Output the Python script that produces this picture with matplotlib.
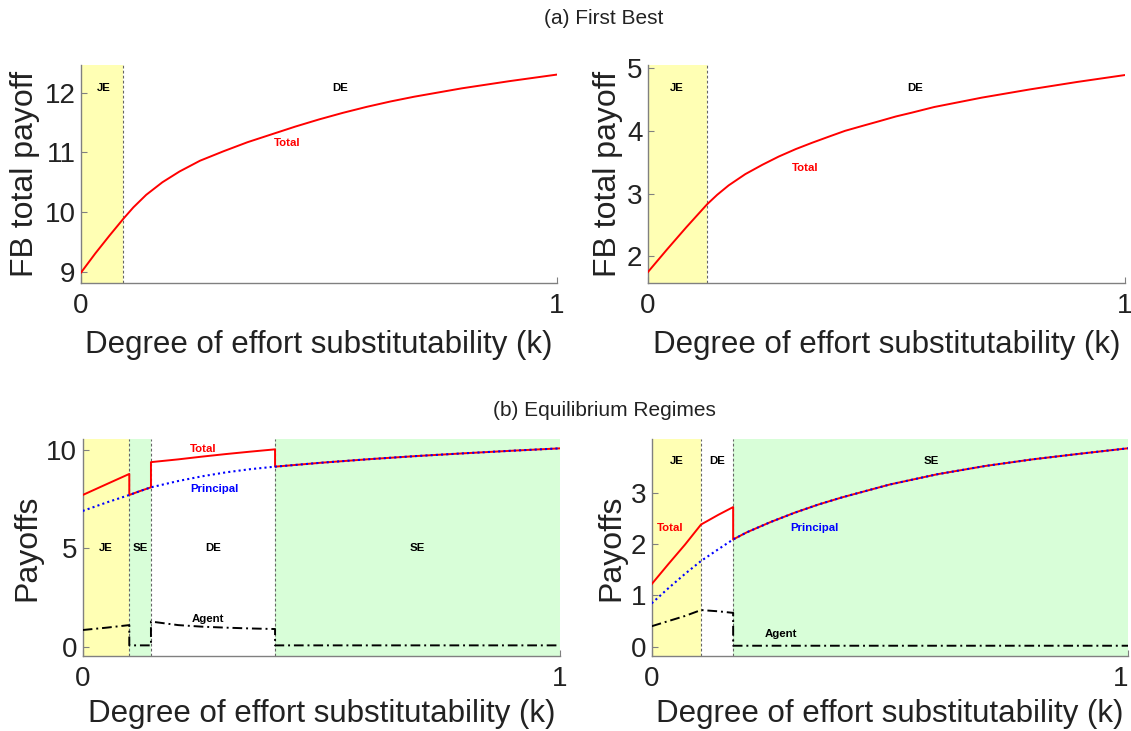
import matplotlib
matplotlib.use("Agg")
import matplotlib.pyplot as plt

plt.rcParams['font.family'] = ['Liberation Sans', 'DejaVu Sans']

# ---------------- data ----------------
# (a) First Best, left panel
fb1_k = [0, 0.03, 0.06, 0.089, 0.11, 0.137, 0.171, 0.207, 0.25, 0.3, 0.35, 0.4,
         0.45, 0.5, 0.55, 0.6, 0.65, 0.7, 0.8, 0.9, 1.0]
fb1_total = [8.99, 9.31, 9.61, 9.89, 10.08, 10.29, 10.50, 10.68, 10.86, 11.02, 11.17, 11.30,
             11.43, 11.55, 11.66, 11.76, 11.85, 11.93, 12.07, 12.19, 12.30]
fb1_je = 0.089

# (a) First Best, right panel
fb2_k = [0, 0.04, 0.08, 0.124, 0.145, 0.169, 0.204, 0.24, 0.274, 0.31, 0.344, 0.38,
         0.413, 0.45, 0.483, 0.52, 0.553, 0.6, 0.7, 0.8, 0.9, 1.0]
fb2_total = [1.75, 2.11, 2.46, 2.83, 2.98, 3.13, 3.31, 3.46, 3.59, 3.71, 3.81, 3.91,
             4.00, 4.08, 4.15, 4.23, 4.29, 4.38, 4.53, 4.66, 4.78, 4.89]
fb2_je = 0.124

# (b) Equilibrium regimes, left panel
eq1_bounds = [0.0976, 0.143, 0.403]
eq1_pk = [0, 0.05, 0.0976, 0.12, 0.143, 0.2, 0.25, 0.3, 0.35, 0.403, 0.5, 0.6, 0.7, 0.8, 0.9, 1.0]
eq1_principal = [6.90, 7.33, 7.71, 7.91, 8.10, 8.42, 8.66, 8.86, 9.02, 9.15, 9.35, 9.53, 9.69, 9.83, 9.96, 10.08]
eq1_tk = [0, 0.05, 0.0976, 0.0976, 0.12, 0.143, 0.143, 0.2, 0.25, 0.3, 0.35, 0.403, 0.403,
          0.5, 0.6, 0.7, 0.8, 0.9, 1.0]
eq1_total = [7.71, 8.26, 8.78, 7.71, 7.91, 8.10, 9.38, 9.52, 9.66, 9.79, 9.91, 10.03, 9.15,
             9.35, 9.53, 9.69, 9.83, 9.96, 10.08]
eq1_ak = [0, 0.05, 0.0976, 0.0976, 0.143, 0.143, 0.2, 0.25, 0.3, 0.35, 0.403, 0.403, 1.0]
eq1_agent = [0.85, 0.97, 1.10, 0.07, 0.07, 1.28, 1.10, 1.02, 0.97, 0.93, 0.90, 0.07, 0.07]

# (b) Equilibrium regimes, right panel
eq2_bounds = [0.1035, 0.171]
eq2_pk = [0, 0.035, 0.07, 0.1035, 0.14, 0.171, 0.2, 0.25, 0.3, 0.35, 0.4, 0.5, 0.6, 0.7, 0.8, 0.9, 1.0]
eq2_principal = [0.845, 1.14, 1.42, 1.67, 1.90, 2.09, 2.23, 2.43, 2.61, 2.77, 2.91, 3.16, 3.36, 3.52, 3.65, 3.76, 3.865]
eq2_tk = [0, 0.035, 0.07, 0.1035, 0.14, 0.171, 0.171, 0.2, 0.25, 0.3, 0.35, 0.4, 0.5, 0.6, 0.7, 0.8, 0.9, 1.0]
eq2_total = [1.22, 1.61, 1.99, 2.38, 2.57, 2.72, 2.09, 2.23, 2.43, 2.61, 2.77, 2.91, 3.16, 3.36, 3.52, 3.65, 3.76, 3.865]
eq2_ak = [0, 0.035, 0.07, 0.1035, 0.14, 0.171, 0.171, 1.0]
eq2_agent = [0.40, 0.50, 0.60, 0.715, 0.69, 0.66, 0.02, 0.02]

XLABEL = "Degree of effort substitutability (k)"
YELLOW = '#FFFFB4'
GREEN = '#D8FED8'
GREY = '#808080'
TXT = '#222222'

fig = plt.figure(figsize=(11.31, 7.31), dpi=100)

def make_ax(rect, ylim, yticks, ylabel, xlabelpad):
    ax = fig.add_axes(rect)
    ax.set_xlim(0, 1)
    ax.set_ylim(*ylim)
    ax.set_xticks([0, 1])
    ax.set_xticklabels(['0', '1'])
    ax.set_yticks(yticks)
    ax.set_yticklabels([str(t) for t in yticks])
    for s in ['top', 'right']:
        ax.spines[s].set_visible(False)
    for s in ['left', 'bottom']:
        ax.spines[s].set_color(GREY)
        ax.spines[s].set_linewidth(1.0)
    ax.tick_params(axis='both', direction='in', length=4, color=GREY,
                   labelsize=20, labelcolor=TXT)
    ax.tick_params(axis='x', pad=7)
    ax.tick_params(axis='y', pad=4)
    ax.set_xlabel(XLABEL, fontsize=22.5, color=TXT, labelpad=xlabelpad)
    ax.set_ylabel(ylabel, fontsize=23, color=TXT, labelpad=3)
    return ax

def vline(ax, x):
    ax.axvline(x, color='#666666', lw=0.8, ls=(0, (2.5, 2)), zorder=2)

def lab(ax, x, y, s, color='black'):
    ax.text(x, y, s, fontsize=8.2, fontweight='bold', color=color,
            ha='center', va='center', zorder=6)

# Panel positions (fig fraction)
W = 1131.0
H = 731.0
r_tl = [81 / W, (H - 283) / H, 476 / W, 218 / H]
r_tr = [648 / W, (H - 283) / H, 477 / W, 218 / H]
r_bl = [82.7 / W, (H - 656) / H, 477.3 / W, 216.7 / H]
r_br = [651.7 / W, (H - 656) / H, 476.3 / W, 216.7 / H]

# --- (a) left
ax = make_ax(r_tl, (8.816, 12.46), [9, 10, 11, 12], "FB total payoff", 8)
ax.axvspan(0, fb1_je, color=YELLOW, lw=0, zorder=0)
vline(ax, fb1_je)
ax.plot(fb1_k, fb1_total, color='red', lw=1.4, zorder=4)
lab(ax, 0.047, 12.07, "JE")
lab(ax, 0.545, 12.07, "DE")
lab(ax, 0.433, 11.16, "Total", 'red')

# --- (a) right
ax = make_ax(r_tr, (1.574, 5.05), [2, 3, 4, 5], "FB total payoff", 8)
ax.axvspan(0, fb2_je, color=YELLOW, lw=0, zorder=0)
vline(ax, fb2_je)
ax.plot(fb2_k, fb2_total, color='red', lw=1.4, zorder=4)
lab(ax, 0.061, 4.68, "JE")
lab(ax, 0.561, 4.68, "DE")
lab(ax, 0.329, 3.41, "Total", 'red')

# --- (b) left
ax = make_ax(r_bl, (-0.47, 10.54), [0, 5, 10], "Payoffs", 5)
ax.axvspan(0, eq1_bounds[0], color=YELLOW, lw=0, zorder=0)
ax.axvspan(eq1_bounds[0], eq1_bounds[1], color=GREEN, lw=0, zorder=0)
ax.axvspan(eq1_bounds[2], 1, color=GREEN, lw=0, zorder=0)
for b in eq1_bounds:
    vline(ax, b)
ax.plot(eq1_tk, eq1_total, color='red', lw=1.4, zorder=4)
ax.plot(eq1_pk, eq1_principal, color='blue', lw=1.5, ls=(0, (1, 1.5)), zorder=5)
ax.plot(eq1_ak, eq1_agent, color='black', lw=1.4, ls=(0, (5, 2, 1, 2)), zorder=4)
lab(ax, 0.049, 5.0, "JE")
lab(ax, 0.120, 5.0, "SE")
lab(ax, 0.274, 5.0, "DE")
lab(ax, 0.700, 5.0, "SE")
lab(ax, 0.253, 10.05, "Total", 'red')
lab(ax, 0.277, 8.0, "Principal", 'blue')
lab(ax, 0.262, 1.39, "Agent")

# --- (b) right
ax = make_ax(r_br, (-0.18, 4.04), [0, 1, 2, 3], "Payoffs", 5)
ax.axvspan(0, eq2_bounds[0], color=YELLOW, lw=0, zorder=0)
ax.axvspan(eq2_bounds[1], 1, color=GREEN, lw=0, zorder=0)
for b in eq2_bounds:
    vline(ax, b)
ax.plot(eq2_tk, eq2_total, color='red', lw=1.4, zorder=4)
ax.plot(eq2_pk, eq2_principal, color='blue', lw=1.5, ls=(0, (1, 1.5)), zorder=5)
ax.plot(eq2_ak, eq2_agent, color='black', lw=1.4, ls=(0, (5, 2, 1, 2)), zorder=4)
ax.get_xticklabels()[-1].set_horizontalalignment('right')
lab(ax, 0.052, 3.62, "JE")
lab(ax, 0.137, 3.62, "DE")
lab(ax, 0.587, 3.62, "SE")
lab(ax, 0.039, 2.31, "Total", 'red')
lab(ax, 0.342, 2.32, "Principal", 'blue')
lab(ax, 0.272, 0.24, "Agent")

fig.text(604 / W, 1 - 18 / H, "(a) First Best", ha='center', va='center', fontsize=15, color=TXT)
fig.text(604 / W, 1 - 410 / H, "(b) Equilibrium Regimes", ha='center', va='center', fontsize=15, color=TXT)

fig.savefig("out.png", dpi=100)
